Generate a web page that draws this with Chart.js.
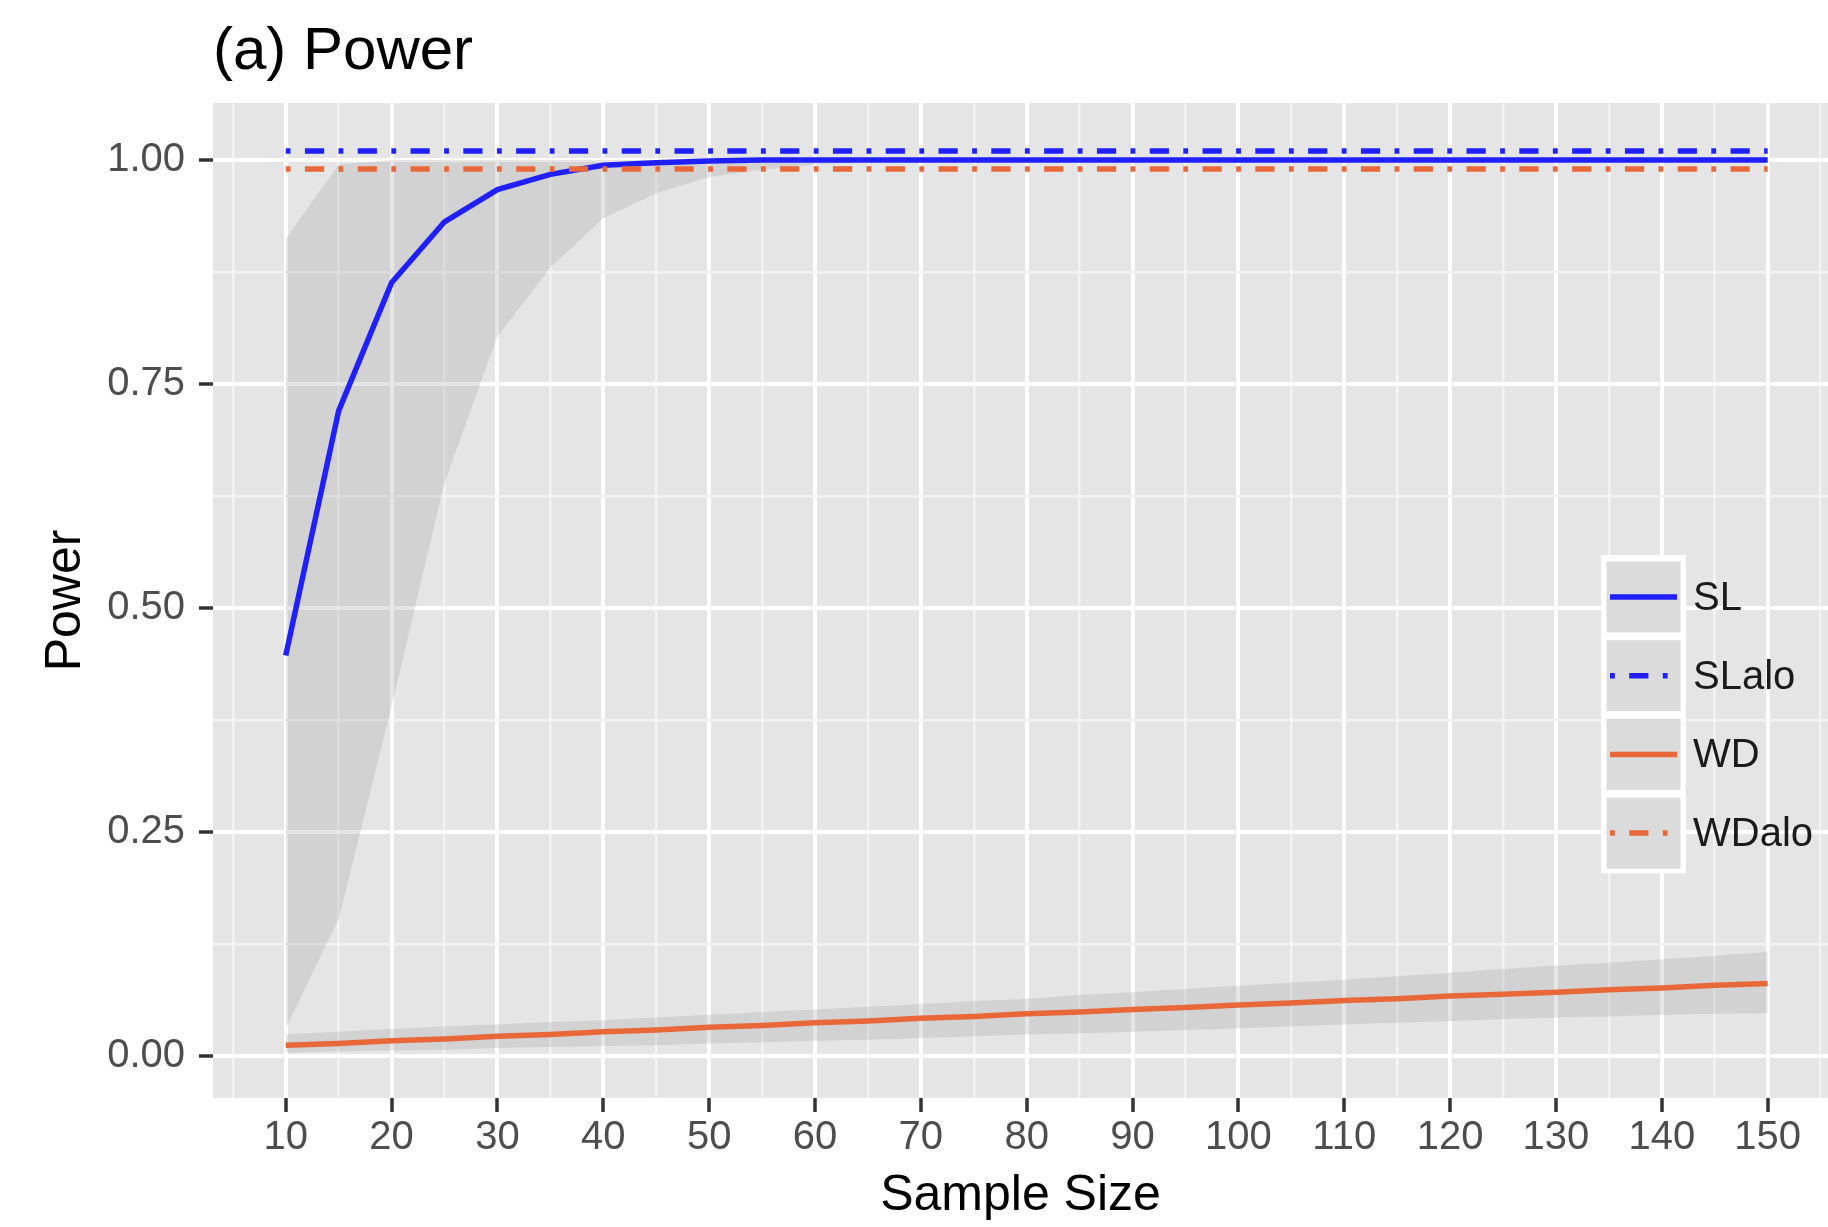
<!DOCTYPE html>
<html lang="en">
<head>
  <meta charset="UTF-8" />
  <title>(a) Power</title>
  <style>
    body {
      margin: 0;
      background-color: white;
      overflow: hidden;
    }
    .wrap {
      width: 1828px;
      height: 1227px;
      position: relative;
    }
  </style>
</head>
<body>
  <div class="wrap">
    <canvas id="powerChart"></canvas>
  </div>

  <script src="https://cdn.jsdelivr.net/npm/chart.js"></script>
  <script>
    // sample sizes where power was estimated
    const sampleSize = [10, 15, 20, 25, 30, 35, 40, 45, 50, 55, 60, 65, 70, 75, 80,
                        85, 90, 95, 100, 105, 110, 115, 120, 125, 130, 135, 140, 145, 150];

    const slPower = [0.447, 0.720, 0.863, 0.931, 0.967, 0.984, 0.994, 0.997, 0.999, 1, 1, 1, 1, 1, 1,
                     1, 1, 1, 1, 1, 1, 1, 1, 1, 1, 1, 1, 1, 1];
    const slUpper = [0.912, 0.995, 1, 1, 1, 1, 1, 1, 1, 1, 1, 1, 1, 1, 1,
                     1, 1, 1, 1, 1, 1, 1, 1, 1, 1, 1, 1, 1, 1];
    const slLower = [0.031, 0.153, 0.390, 0.640, 0.803, 0.880, 0.935, 0.963, 0.981, 0.989, 0.995, 0.998, 1, 1, 1,
                     1, 1, 1, 1, 1, 1, 1, 1, 1, 1, 1, 1, 1, 1];

    const wdPower = [0.012, 0.014, 0.017, 0.019, 0.022, 0.024, 0.027, 0.029, 0.032, 0.034, 0.037, 0.039, 0.042, 0.044, 0.047,
                     0.049, 0.052, 0.054, 0.057, 0.059, 0.062, 0.064, 0.067, 0.069, 0.071, 0.074, 0.076, 0.079, 0.081];
    const wdUpper = [0.024, 0.027, 0.030, 0.033, 0.035, 0.038, 0.040, 0.043, 0.046, 0.049, 0.052, 0.055, 0.058, 0.061, 0.064,
                     0.068, 0.071, 0.075, 0.078, 0.082, 0.085, 0.089, 0.093, 0.097, 0.101, 0.104, 0.108, 0.112, 0.116];
    const wdLower = [0.004, 0.005, 0.006, 0.007, 0.009, 0.010, 0.011, 0.012, 0.014, 0.015, 0.017, 0.018, 0.020, 0.022, 0.024,
                     0.025, 0.027, 0.029, 0.031, 0.033, 0.035, 0.037, 0.039, 0.041, 0.043, 0.044, 0.046, 0.047, 0.048];

    // asymptotic ("alo") reference levels
    const aloX = [10, 150];
    const slAloPower = [1.01, 1.01];
    const wdAloPower = [0.99, 0.99];

    const legendLabels = ['SL', 'SLalo', 'WD', 'WDalo'];

    const xMajor = [10, 20, 30, 40, 50, 60, 70, 80, 90, 100, 110, 120, 130, 140, 150];
    const xMinor = [5, 15, 25, 35, 45, 55, 65, 75, 85, 95, 105, 115, 125, 135, 145, 155];
    const yMajor = [0, 0.25, 0.5, 0.75, 1];
    const yMinor = [0.125, 0.375, 0.625, 0.875];

    const BLUE = '#1f1fff';
    const ORANGE = '#e9683a';
    const RIBBON = 'rgba(160,160,160,0.28)';
    const FONT = '"Liberation Sans", Arial, Helvetica, sans-serif';
    const LW = 5.5;

    const U = 4.8; // ggplot dash unit
    const dotDash = [U, 3 * U, 4 * U, 3 * U];

    const pts = (xs, ys) => xs.map((x, i) => ({ x: x, y: ys[i] }));

    Chart.defaults.font.family = FONT;

    // grey panel behind the plot
    const panelBg = {
      id: 'panelBg',
      beforeDraw(chart) {
        const a = chart.chartArea;
        const ctx = chart.ctx;
        ctx.save();
        ctx.fillStyle = '#e5e5e5';
        ctx.fillRect(a.left, a.top, a.right - a.left, a.bottom - a.top);
        ctx.restore();
      }
    };

    // ggplot-style legend inside the panel
    const ggLegend = {
      id: 'ggLegend',
      afterDraw(chart) {
        const ctx = chart.ctx;
        const left = 1601, top = 555, w = 85, keyH = 78.7;
        ctx.save();
        ctx.fillStyle = '#ffffff';
        ctx.fillRect(left, top, w, keyH * legendLabels.length + 3.5);
        legendLabels.forEach((lab, i) => {
          const ds = chart.data.datasets.find(d => d.label === lab);
          const ky = top + i * keyH + 6.5;
          ctx.fillStyle = '#f2f2f2';
          ctx.fillRect(left + 5.5, ky, w - 11, 71);
          ctx.fillStyle = RIBBON;
          ctx.fillRect(left + 5.5, ky, w - 11, 71);
          const cy = ky + 35.5;
          ctx.beginPath();
          ctx.strokeStyle = ds.borderColor;
          ctx.lineWidth = ds.borderWidth;
          ctx.lineCap = 'butt';
          ctx.setLineDash(ds.borderDash || []);
          ctx.moveTo(left + 9, cy);
          ctx.lineTo(left + 76, cy);
          ctx.stroke();
          ctx.setLineDash([]);
          ctx.fillStyle = '#1a1a1a';
          ctx.font = '40px ' + FONT;
          ctx.textAlign = 'left';
          ctx.textBaseline = 'middle';
          ctx.fillText(lab, left + 92, cy + 2);
        });
        ctx.restore();
      }
    };

    const isMajor = (list, v) => list.some(m => Math.abs(m - v) < 1e-9);

    new Chart(document.getElementById('powerChart'), {
      type: 'line',
      data: {
        datasets: [
          { label: 'WDalo', data: pts(aloX, wdAloPower), borderColor: ORANGE, borderWidth: LW,
            borderDash: dotDash, pointRadius: 0, fill: false, order: 0 },
          { label: 'WD', data: pts(sampleSize, wdPower), borderColor: ORANGE, borderWidth: LW,
            pointRadius: 0, fill: false, order: 1 },
          { label: 'SLalo', data: pts(aloX, slAloPower), borderColor: BLUE, borderWidth: LW,
            borderDash: dotDash, pointRadius: 0, fill: false, order: 2 },
          { label: 'SL', data: pts(sampleSize, slPower), borderColor: BLUE, borderWidth: LW,
            pointRadius: 0, fill: false, order: 3 },
          { label: 'SL band', data: pts(sampleSize, slUpper), borderWidth: 0, borderColor: 'rgba(0,0,0,0)',
            backgroundColor: RIBBON, pointRadius: 0, fill: '+1', order: 10 },
          { label: 'SL band low', data: pts(sampleSize, slLower), borderWidth: 0, borderColor: 'rgba(0,0,0,0)',
            pointRadius: 0, fill: false, order: 11 },
          { label: 'WD band', data: pts(sampleSize, wdUpper), borderWidth: 0, borderColor: 'rgba(0,0,0,0)',
            backgroundColor: RIBBON, pointRadius: 0, fill: '+1', order: 12 },
          { label: 'WD band low', data: pts(sampleSize, wdLower), borderWidth: 0, borderColor: 'rgba(0,0,0,0)',
            pointRadius: 0, fill: false, order: 13 }
        ]
      },
      options: {
        responsive: true,
        maintainAspectRatio: false,
        animation: false,
        layout: { padding: 0 },
        elements: { line: { tension: 0, borderCapStyle: 'butt' } },
        plugins: {
          legend: { display: false },
          tooltip: { enabled: false },
          filler: { drawTime: 'beforeDatasetsDraw' },
          title: {
            display: true,
            text: '(a) Power',
            align: 'start',
            fullSize: false,
            color: '#000000',
            font: { size: 60, weight: 'normal' },
            padding: { top: 16.2, bottom: 14.8 }
          }
        },
        scales: {
          x: {
            type: 'linear',
            min: 3.13,
            max: 155.7,
            afterBuildTicks(axis) {
              axis.ticks = xMajor.concat(xMinor).sort((a, b) => a - b).map(v => ({ value: v }));
            },
            afterFit(axis) { axis.height = 129; },
            border: { display: false },
            grid: {
              color: ctx => isMajor(xMajor, ctx.tick.value) ? '#ffffff' : '#f3f3f3',
              lineWidth: ctx => isMajor(xMajor, ctx.tick.value) ? 4 : 2.5,
              tickLength: 14,
              tickWidth: 3.5,
              tickColor: ctx => isMajor(xMajor, ctx.tick.value) ? '#333333' : 'rgba(0,0,0,0)'
            },
            ticks: {
              autoSkip: false,
              maxRotation: 0,
              padding: 2,
              color: '#4d4d4d',
              font: { size: 40 },
              callback: v => isMajor(xMajor, v) ? String(v) : ''
            },
            title: {
              display: true,
              text: 'Sample Size',
              color: '#000000',
              font: { size: 50 },
              padding: { top: 0, bottom: 1 }
            }
          },
          y: {
            type: 'linear',
            min: -0.0469,
            max: 1.0636,
            afterBuildTicks(axis) {
              axis.ticks = yMajor.concat(yMinor).sort((a, b) => a - b).map(v => ({ value: v }));
            },
            afterFit(axis) { axis.width = 213; },
            border: { display: false },
            grid: {
              color: ctx => isMajor(yMajor, ctx.tick.value) ? '#ffffff' : '#f3f3f3',
              lineWidth: ctx => isMajor(yMajor, ctx.tick.value) ? 4 : 2.5,
              tickLength: 14,
              tickWidth: 3.5,
              tickColor: ctx => isMajor(yMajor, ctx.tick.value) ? '#333333' : 'rgba(0,0,0,0)'
            },
            ticks: {
              autoSkip: false,
              padding: 14,
              color: '#4d4d4d',
              font: { size: 40 },
              callback: v => isMajor(yMajor, v) ? v.toFixed(2) : ''
            },
            title: {
              display: true,
              text: 'Power',
              color: '#000000',
              font: { size: 50 },
              padding: { top: 36, bottom: 0 }
            }
          }
        }
      },
      plugins: [panelBg, ggLegend]
    });
  </script>
</body>
</html>
